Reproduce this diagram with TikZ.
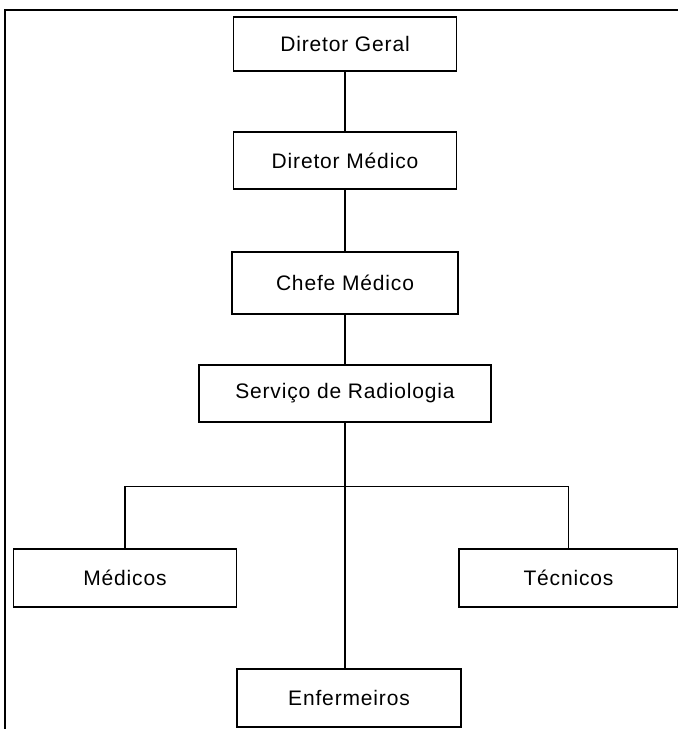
\documentclass[tikz,border=0pt]{standalone}
\usepackage{fontspec}
\setmainfont{Liberation Sans}
\newfontfamily\orgfont[LetterSpace=4]{Liberation Sans}
\begin{document}
\begin{tikzpicture}[x=1pt,y=-1pt,
  orgbox/.style={draw,line width=1.3pt,inner sep=0pt,minimum width=223pt,
    minimum height=57pt,font=\orgfont\fontsize{21}{25}\selectfont},
  orgline/.style={line width=1.3pt}]
  \useasboundingbox (0,0) rectangle (678,729);
  % frame
  \draw[line width=2.6pt] (5,729) -- (5,10) -- (678,10);
  % main column
  \node[orgbox,minimum height=54pt] (geral) at (345,44) {Diretor Geral};
  \node[orgbox] (medico) at (345,160.5) {Diretor Médico};
  \node[orgbox,minimum width=226pt,minimum height=62pt] (chefe) at (345,283) {Chefe Médico};
  \node[orgbox,minimum width=292pt] (servico) at (345,393.5) {Serviço de Radiologia};
  % staff
  \node[orgbox,minimum height=58pt] (medicos) at (125,578) {Médicos};
  \node[orgbox,minimum width=219pt,minimum height=58pt] (tecnicos) at (568.5,578) {Técnicos};
  \node[orgbox,minimum width=224pt,minimum height=58pt] (enf) at (349,698) {Enfermeiros};
  % connectors
  \draw[orgline] (geral.south) -- (medico.north);
  \draw[orgline] (medico.south) -- (chefe.north);
  \draw[orgline] (chefe.south) -- (servico.north);
  \draw[orgline] (servico.south) -- (servico.south |- enf.north);
  \draw[orgline] (medicos.north) -- ++(0,-62) -| (tecnicos.north);
\end{tikzpicture}
\end{document}
